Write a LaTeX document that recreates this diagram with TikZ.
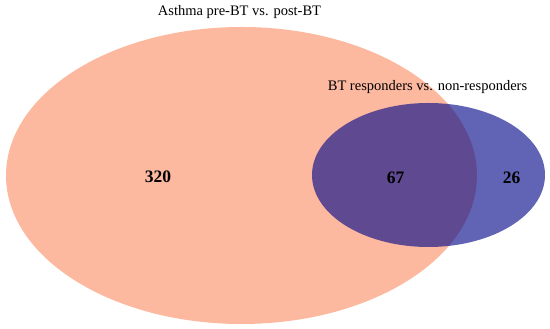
\documentclass[tikz,border=0pt]{standalone}
\usepackage{fontspec}
\setmainfont{Liberation Serif}
\usepackage{tikz}
\usetikzlibrary{positioning}

\definecolor{asthmafill}{RGB}{252,185,160}
\definecolor{respfill}{RGB}{0,5,135}
\tikzset{
  setlabel/.style={font=\fontsize{14.5}{17}\selectfont, anchor=base},
  count/.style={font=\fontsize{17.5}{20}\selectfont\bfseries, anchor=base}
}

\begin{document}
\begin{tikzpicture}[x=1pt,y=1pt]
  \useasboundingbox (0,0) rectangle (550,329);
  % the two sets
  \fill[asthmafill] (241.5,153.5) ellipse [x radius=235.5, y radius=148.5];
  \fill[respfill, fill opacity=0.62] (428.5,154) ellipse [x radius=116.5, y radius=72];
  % set titles
  \node (asthma) [setlabel] at (239.5,313) {Asthma pre-BT vs. post-BT};
  \node (resp) [setlabel] at (427.5,238) {BT responders vs. non-responders};
  % counts
  \node (onlyA) [count] at (158,146) {320};
  \node (both) [count] at (395.5,145) {67};
  \node (onlyB) [count] at (511.5,145) {26};
\end{tikzpicture}
\end{document}
